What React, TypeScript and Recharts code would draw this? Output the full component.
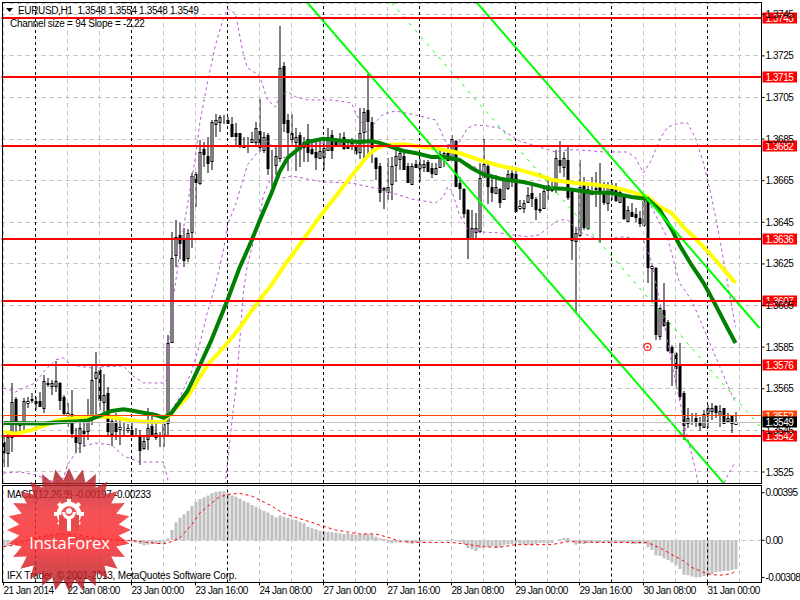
import React from 'react';
import { ComposedChart, Bar, Line, XAxis, YAxis, CartesianGrid, ReferenceLine, ReferenceDot } from 'recharts';

const toPrice = (a: number[]) => a.map((v) => v / 100000);

// Hourly EURUSD candles, prices x 100000
const opens = toPrice([
135394,135341,135418,135601,135485,135481,135582,135596,135591,135591,
135558,135673,135663,135663,135678,135610,135524,135529,135428,135389,
135447,135447,135514,135702,135740,135586,135630,135433,135490,135457,
135457,135452,135452,135423,135418,135365,135409,135471,135418,135423,
135433,135485,135875,136294,136390,136375,136279,136404,136682,136639,
136802,136769,136745,136923,136932,136951,136942,136923,136879,136879,
136812,136831,136836,136836,136889,136798,136870,136721,136726,136759,
137202,136942,136879,136836,136870,136812,136850,136802,136788,136759,
136764,136798,136870,136836,136822,136860,136822,136817,136812,136788,
136884,136990,136932,136759,136721,136615,136596,136634,136726,136754,
136769,136721,136634,136730,136711,136716,136740,136711,136682,136716,
136759,136783,136750,136841,136639,136610,136510,136370,136404,136409,
136668,136721,136620,136591,136610,136562,136615,136687,136682,136520,
136520,136548,136591,136562,136510,136520,136605,136620,136615,136750,
136716,136750,136605,136361,136390,136639,136423,136601,136610,136625,
136601,136543,136610,136610,136548,136572,136457,136500,136491,136471,
136438,136562,136231,136231,135904,136029,135971,135851,135822,135769,
135630,135485,135500,135509,135490,135466,135534,135543,135567,135524,
135558,135495,135519,135481]);
const highs = toPrice([
135418,135442,135678,135610,135490,135606,135610,135630,135610,135634,
135716,135702,135692,135783,135683,135620,135582,135644,135461,135500,
135485,135601,135759,135827,135755,135721,135658,135514,135534,135514,
135490,135481,135500,135461,135452,135418,135558,135538,135485,135442,
135500,135908,136404,136462,136447,136423,136419,136687,136692,136846,
136836,136860,136942,136971,136966,136966,136956,136956,136927,136879,
136860,136860,136884,136932,137043,136884,136879,136798,136812,137394,
137221,136971,136971,136903,136884,136860,136923,136831,136841,136846,
136846,136903,136894,136855,136879,136884,136846,136855,136841,136999,
136999,137163,136956,136764,136735,136620,136759,136764,136798,136807,
136798,136735,136735,136750,136754,136750,136750,136735,136735,136798,
136788,136822,136870,136846,136668,136615,136515,136510,136496,136735,
136850,136735,136668,136677,136615,136668,136701,136721,136716,136558,
136558,136620,136630,136572,136591,136615,136668,136644,136798,136841,
136788,136812,136615,136428,136750,136668,136630,136668,136692,136735,
136644,136644,136639,136639,136615,136582,136529,136543,136520,136505,
136558,136572,136246,136236,136043,136159,135981,135861,135827,135870,
135639,135558,135534,135534,135514,135548,135572,135582,135572,135572,
135558,135534,135524,135538]);
const lows = toPrice([
135274,135274,135346,135437,135437,135437,135558,135582,135548,135567,
135534,135658,135620,135634,135548,135524,135466,135413,135341,135341,
135370,135404,135476,135524,135548,135514,135418,135375,135404,135380,
135418,135437,135418,135418,135284,135356,135356,135418,135404,135370,
135370,135418,135870,136236,136274,136236,136260,136327,136524,136630,
136716,136687,136701,136860,136884,136923,136923,136860,136812,136807,
136807,136783,136831,136812,136788,136783,136677,136620,136677,136740,
136884,136697,136812,136697,136716,136740,136740,136774,136701,136754,
136701,136793,136754,136812,136812,136798,136802,136798,136774,136754,
136740,136778,136735,136653,136548,136515,136558,136558,136644,136701,
136701,136639,136634,136711,136644,136692,136692,136663,136677,136711,
136716,136745,136745,136620,136558,136471,136274,136366,136370,136399,
136668,136539,136548,136586,136520,136558,136605,136620,136500,136510,
136496,136543,136524,136462,136496,136515,136558,136596,136591,136687,
136668,136558,136270,136019,136380,136414,136414,136582,136524,136351,
136534,136505,136558,136548,136548,136462,136452,136476,136452,136428,
136428,136159,136067,135885,135885,135947,135827,135663,135658,135596,
135404,135461,135476,135466,135447,135466,135461,135500,135509,135466,
135481,135485,135437,135481]);
const closes = toPrice([
135346,135418,135586,135495,135476,135591,135591,135601,135582,135567,
135687,135678,135678,135687,135596,135534,135534,135437,135394,135461,
135437,135505,135692,135731,135596,135620,135447,135495,135447,135466,
135457,135461,135433,135423,135356,135399,135461,135423,135437,135423,
135481,135870,136279,136380,136351,136270,136399,136673,136644,136788,
136778,136735,136932,136942,136956,136951,136927,136865,136865,136817,
136822,136831,136850,136903,136812,136860,136711,136721,136769,137192,
136927,136884,136850,136860,136802,136836,136788,136783,136764,136793,
136807,136860,136798,136826,136850,136807,136807,136831,136783,136879,
136980,136937,136812,136711,136596,136605,136620,136721,136769,136783,
136706,136644,136721,136716,136730,136730,136697,136687,136711,136778,
136783,136750,136850,136625,136615,136496,136375,136423,136423,136663,
136730,136625,136596,136620,136548,136654,136682,136658,136505,136529,
136543,136582,136567,136515,136515,136601,136630,136605,136759,136726,
136759,136572,136366,136399,136620,136428,136610,136586,136615,136605,
136548,136620,136591,136558,136596,136471,136510,136481,136476,136447,
136553,136236,136241,135913,136039,135957,135837,135827,135750,135615,
135476,135509,135500,135495,135476,135529,135558,135558,135538,135543,
135485,135509,135485,135490]);

// Indicator readings as [bar, price x 100000]
const maFast: [number, number][] = [[0,135485],[10,135483],[13,135488],[17,135492],[21,135498],[24,135519],[27,135543],[30,135551],[32,135545],[35,135535],[38,135524],[40,135510],[42,135534],[44,135586],[46,135639],[49,135759],[52,135885],[56,136077],[59,136231],[62,136361],[64,136457],[67,136591],[69,136692],[71,136759],[74,136807],[76,136836],[80,136851],[84,136843],[89,136836],[92,136841],[94,136832],[97,136812],[100,136793],[103,136783],[107,136764],[110,136764],[114,136750],[117,136711],[120,136680],[125,136656],[130,136644],[133,136630],[136,136615],[141,136610],[147,136593],[152,136591],[157,136572],[161,136562],[164,136510],[167,136418],[169,136341],[172,136245],[175,136159],[178,136053],[181,135942],[183,135870]];
const maSlow: [number, number][] = [[0,135444],[3,135433],[7,135452],[11,135479],[14,135500],[18,135510],[22,135516],[26,135516],[30,135503],[34,135493],[38,135490],[40,135491],[42,135535],[46,135610],[51,135764],[56,135870],[59,135942],[64,136077],[67,136149],[70,136236],[74,136341],[79,136476],[84,136598],[87,136673],[90,136745],[92,136788],[94,136812],[96,136822],[100,136825],[104,136814],[109,136803],[114,136783],[119,136750],[124,136722],[129,136702],[134,136675],[137,136654],[142,136641],[147,136633],[152,136620],[157,136596],[161,136572],[164,136524],[167,136495],[170,136428],[172,136390],[175,136332],[178,136269],[181,136202],[183,136159]];
const bandUpper: [number, number][] = [[0,135654],[3,135634],[5,135654],[8,135678],[10,135731],[13,135789],[15,135798],[17,135764],[22,135750],[24,135755],[30,135760],[32,135716],[35,135678],[40,135678],[41,135702],[42,136029],[43,136159],[44,136294],[45,136423],[46,136534],[47,136654],[48,136764],[49,136918],[51,137125],[53,137303],[55,137432],[56,137476],[58,137452],[60,137255],[61,137192],[64,137154],[66,137038],[68,137004],[69,137053],[71,137077],[73,137053],[76,137038],[82,137038],[87,137024],[88,136976],[91,136879],[93,136932],[95,136971],[98,136985],[103,136966],[108,136942],[110,136860],[111,136822],[114,136836],[116,136903],[118,136918],[121,136913],[124,136903],[129,136841],[134,136812],[138,136788],[141,136798],[144,136798],[150,136788],[156,136788],[158,136759],[160,136687],[162,136750],[164,136846],[166,136908],[169,136927],[171,136927],[173,136855],[175,136735],[177,136572],[179,136380],[181,136159],[183,135947]];
const bandMiddle: [number, number][] = [[41,135524],[42,135548],[44,135606],[47,135731],[49,135860],[51,136019],[53,136149],[55,136317],[56,136438],[58,136534],[61,136726],[63,136774],[66,136841],[70,136759],[75,136822],[85,136841],[95,136826],[105,136774],[115,136740],[125,136654],[135,136620],[145,136605],[155,136582],[161,136562],[163,136486],[166,136375],[169,136159],[172,136077],[175,135942],[177,135851],[179,135760],[181,135668],[183,135582]];
const bandLower: [number, number][] = [[0,135245],[4,135250],[8,135236],[10,135221],[13,135200],[15,135221],[16,135284],[19,135370],[23,135389],[27,135380],[30,135327],[34,135298],[39,135298],[40,135298],[41,135221],[42,135115],[55,135115],[56,135293],[57,135476],[58,135634],[59,135860],[60,136125],[61,136245],[64,136471],[65,136582],[67,136668],[70,136663],[72,136673],[76,136658],[80,136644],[87,136639],[95,136605],[98,136586],[102,136562],[108,136543],[110,136572],[111,136620],[112,136605],[114,136486],[116,136418],[119,136404],[124,136399],[131,136380],[134,136390],[137,136438],[139,136462],[141,136462],[144,136404],[149,136366],[155,136380],[160,136366],[162,136260],[165,135981],[167,135779],[169,135596],[171,135418],[173,135260],[174,135163],[178,135115],[180,135192],[182,135269],[183,135298]];
const channelLow: [number, number][] = [[76,137505],[181,135175]];
const channelHigh: [number, number][] = [[118,137513],[189,135942]];
const channelMid: [number, number][] = [[97,137505],[189,135471]];

const macdHist = toPrice([
-58,-47,-39,-30,-19,-8,-3,8,17,25,36,44,53,58,64,66,58,50,39,36,30,25,19,17,17,11,11,11,8,8,8,3,
-11,-19,-30,-41,-36,-30,-30,-30,-30,17,86,149,188,216,243,285,321,343,357,373,390,401,407,407,390,373,362,346,326,313,293,279,257,246,230,210,191,205,196,188,174,169,155,141,113,100,91,80,75,72,66,64,58,53,58,53,44,50,53,53,50,30,17,14,-19,-25,-19,-8,
-6,-25,-28,-22,-14,-8,-3,-3,3,1,-3,3,11,-3,-14,-30,-64,-77,-89,-66,-53,-58,-47,-64,-58,-41,-33,-30,-25,-28,-30,-36,-41,-30,-22,-25,-28,-22,1,8,19,19,-6,-36,-30,-30,-25,-19,-22,-19,-17,-19,-17,-19,-19,-19,-25,-30,-30,-30,-28,-58,-80,-124,-130,-149,-163,-185,-205,-238,-285,-290,-301,-307,-307,-296,-290,-279,-263,-260,-254,-252,-246,-238]);
const macdSignal: [number, number][] = [[0,-53],[3,-39],[7,17],[12,44],[16,53],[19,44],[23,17],[27,3],[32,-3],[36,-17],[40,-30],[42,-11],[44,17],[47,127],[49,224],[52,307],[54,362],[57,384],[59,390],[62,368],[64,335],[67,285],[70,224],[73,191],[76,160],[79,127],[83,86],[86,69],[89,53],[93,53],[97,17],[99,-11],[100,-11],[104,-17],[112,-17],[115,-30],[120,-53],[124,-58],[127,-41],[128,-36],[133,-36],[137,-36],[141,-11],[149,-17],[157,-17],[161,-19],[164,-61],[167,-116],[170,-171],[172,-224],[176,-279],[179,-290],[182,-277],[183,-254]];

const priceTicks = [1.3745, 1.3725, 1.3705, 1.3685, 1.3665, 1.3645, 1.3625, 1.3605, 1.3585, 1.3565, 1.3545, 1.3525];
const levelValues = [1.37434, 1.37149, 1.36819, 1.36368, 1.36072, 1.35764, 1.35425];
const levelLabels = ['1.3743', '1.3715', '1.3682', '1.3636', '1.3607', '1.3576', '1.3542'];
const bidValue = 1.3552;
const lastValue = 1.35489;
const macdTicks = [0.00395, 0, -0.00308];

const tradingDays = ['21 Jan', '22 Jan', '23 Jan', '24 Jan', '27 Jan', '28 Jan', '29 Jan', '30 Jan', '31 Jan'];
const hh = (h: number) => `${h < 10 ? '0' : ''}${h}:00`;
const categories: string[] = [];
tradingDays.forEach((d, k) => {
  for (let h = k === 0 ? 16 : 0; h < 24; h++) {
    if (k === tradingDays.length - 1 && h > 13) break;
    categories.push(k === 0 && h === 16 ? '21 Jan 2014' : `${d} ${hh(h)}`);
  }
});

type Row = Record<string, any>;
const rows: Row[] = categories.map((t, i) => {
  const r: Row = { t };
  if (i < opens.length) {
    r.o = opens[i]; r.h = highs[i]; r.l = lows[i]; r.c = closes[i];
    r.range = [lows[i], highs[i]];
    r.macd = macdHist[i];
  }
  return r;
});
const put = (key: string, pts: [number, number][], div = 100000) => pts.forEach(([i, v]) => { rows[i][key] = v / div; });
put('maFast', maFast); put('maSlow', maSlow);
put('up', bandUpper); put('mid', bandMiddle); put('lo', bandLower);
put('chL', channelLow); put('chH', channelHigh); put('chM', channelMid);
put('signal', macdSignal);

const FONT = '"Liberation Sans", Arial, sans-serif';
const tickStyle = { fontFamily: FONT, fontSize: 10, letterSpacing: -0.45, fill: '#000' };
const macdTickStyle = { ...tickStyle, letterSpacing: -0.6 };

const Candle = (p: any) => {
  const { x, y, width, height, payload } = p;
  if (payload == null || payload.o == null) return null;
  const { o, h, l, c } = payload;
  const scale = Math.abs(height) / (h - l);
  const yOf = (v: number) => y + (h - v) * scale;
  const cx = x + width / 2;
  const top = Math.round(yOf(Math.max(o, c))) + 0.5;
  const bot = Math.round(yOf(Math.min(o, c))) + 0.5;
  const up = c > o;
  return (
    <g>
      <line x1={cx} x2={cx} y1={Math.round(y)} y2={Math.round(y + Math.abs(height))} stroke="#000" strokeWidth={1} />
      <rect x={cx - 1} y={top} width={2} height={Math.max(bot - top, 0)} fill={up ? '#fff' : '#000'} stroke="#000" strokeWidth={1} />
    </g>
  );
};

const Tag = ({ viewBox, text, fill }: any) => {
  if (!viewBox) return null;
  const right = viewBox.x + viewBox.width;
  const cy = Math.round(viewBox.y);
  return (
    <g>
      <rect x={right + 1} y={cy - 5.5} width={34.5} height={11} fill={fill} />
      <text x={right + 4} y={cy + 3.5} fill="#fff" style={{ fontFamily: FONT, fontSize: 10, letterSpacing: -0.45 }}>{text}</text>
    </g>
  );
};

const TimeTick = ({ x, y, payload }: any) => (
  <g>
    <line x1={x} x2={x} y1={y} y2={y + 3} stroke="#000" />
    <text x={x} y={y + 11.5} textAnchor="start" style={tickStyle}>{payload.value}</text>
  </g>
);

const crispLine = (width: number) => (p: any) => {
  const y = width % 2 === 0 ? Math.round(p.y1) : Math.floor(p.y1) + 0.5;
  return <line x1={p.x1} x2={p.x2} y1={y} y2={y} stroke={p.stroke} strokeWidth={width} strokeDasharray={p.strokeDasharray} />;
};

const gridIdx = categories.map((_, i) => i).filter((i) => i % 8 === 0);
const isDay = (i: number) => i % 24 === 8;

const verticals = (prefix: string) =>
  gridIdx.map((i) => (
    <ReferenceLine
      key={prefix + i}
      x={categories[i]}
      stroke={isDay(i) ? '#000' : '#C0C0C0'}
      strokeWidth={1}
      strokeDasharray={isDay(i) ? '3 3' : '4 4'}
    />
  ));

const Marker = ({ cx, cy }: any) => (
  <g>
    <circle cx={cx} cy={cy} r={3.5} fill="#fff" stroke="#FF2020" strokeWidth={1.2} />
    <circle cx={cx} cy={cy} r={1.2} fill="#FF2020" />
  </g>
);

const star = (cx: number, cy: number, R: number, r: number, n: number) => {
  const pts: string[] = [];
  for (let k = 0; k < n * 2; k++) {
    const a = (Math.PI * k) / n - Math.PI / 2;
    const q = k % 2 === 0 ? R : r;
    pts.push(`${(cx + q * Math.cos(a)).toFixed(1)},${(cy + q * Math.sin(a)).toFixed(1)}`);
  }
  return pts.join(' ');
};

const Logo = () => {
  const teeth = [0, 45, 90, 135, 180, 225, 270, 315];
  return (
    <svg width={800} height={600} style={{ position: 'absolute', left: 0, top: 0, pointerEvents: 'none' }}>
      <defs>
        <linearGradient id="lg" x1="0" y1="0" x2="0" y2="1">
          <stop offset="0" stopColor="#A02028" stopOpacity={0.82} />
          <stop offset="0.35" stopColor="#F02C30" stopOpacity={0.82} />
          <stop offset="0.6" stopColor="#FF2428" stopOpacity={0.82} />
          <stop offset="1" stopColor="#A01820" stopOpacity={0.8} />
        </linearGradient>
      </defs>
      <polygon points={star(69, 530, 62, 50, 28)} fill="url(#lg)" />
      <g transform="translate(69 514)">
        <circle r={10} fill="none" stroke="#fff" strokeWidth={4.5} />
        {teeth.map((t) => (
          <rect key={t} x={-2} y={-15} width={4} height={5} fill="#fff" transform={`rotate(${t})`} />
        ))}
        <rect x={-10} y={1} width={20} height={16} fill="#E84A4A" />
        <circle cx={0} cy={-3} r={3} fill="#fff" />
        <path d="M-7 -2 Q-6 4 -2 5 L-2 17 L2 17 L2 5 Q6 4 7 -2 L4 -2 Q3 2 0 2 Q-3 2 -4 -2 Z" fill="#fff" />
      </g>
      <text x={69.5} y={549} textAnchor="middle" fill="#fff" style={{ fontFamily: '"Open Sans", sans-serif', fontSize: 16.5, fontWeight: 400 }}>InstaForex</text>
    </svg>
  );
};

const label = (text: string, left: number, top: number, spacing: number) => (
  <div style={{ position: 'absolute', left, top, fontFamily: FONT, fontSize: 10, letterSpacing: spacing, color: '#000', lineHeight: '12px', whiteSpace: 'pre' }}>{text}</div>
);
const frame = (top: number, height: number) => (
  <div style={{ position: 'absolute', left: 2, top, width: 760, height, boxSizing: 'border-box', border: '1px solid #000', pointerEvents: 'none' }} />
);

export default function App() {
  return (
    <div style={{ position: 'absolute', left: 0, top: 0, width: 800, height: 600, background: '#fff', overflow: 'hidden' }}>
      <div style={{ position: 'absolute', left: 0, top: 0 }}>
        <ComposedChart width={800} height={484} data={rows} margin={{ top: 3, right: 0, bottom: 1, left: 1.5 }} barCategoryGap={0}>
          <CartesianGrid vertical={false} stroke="#C0C0C0" strokeDasharray="4 4" horizontal={crispLine(1) as any} />
          <XAxis dataKey="t" hide interval={0} />
          <YAxis
            orientation="right"
            width={38.5}
            domain={[1.35197, 1.37504]}
            allowDataOverflow
            ticks={priceTicks}
            interval={0}
            tickFormatter={(v: number) => v.toFixed(4)}
            tick={tickStyle}
            tickSize={3}
            tickMargin={1}
            axisLine={false}
            tickLine={{ stroke: '#000' }}
          />
          {verticals('m')}
          <Line dataKey="up" stroke="#BA55D3" strokeWidth={1} strokeDasharray="3 3" dot={false} connectNulls isAnimationActive={false} />
          <Line dataKey="mid" stroke="#BA55D3" strokeWidth={1} strokeDasharray="3 3" dot={false} connectNulls isAnimationActive={false} />
          <Line dataKey="lo" stroke="#BA55D3" strokeWidth={1} strokeDasharray="3 3" dot={false} connectNulls isAnimationActive={false} />
          <Bar dataKey="range" barSize={3} shape={<Candle />} isAnimationActive={false} />
          <Line dataKey="maSlow" stroke="#FFFF00" strokeWidth={4} dot={false} connectNulls isAnimationActive={false} />
          <Line dataKey="maFast" stroke="#008000" strokeWidth={4} dot={false} connectNulls isAnimationActive={false} />
          <Line dataKey="chL" stroke="#00FF00" strokeWidth={2} dot={false} connectNulls isAnimationActive={false} />
          <Line dataKey="chH" stroke="#00FF00" strokeWidth={2} dot={false} connectNulls isAnimationActive={false} />
          <Line dataKey="chM" stroke="#00FF00" strokeWidth={1} strokeDasharray="3 6" dot={false} connectNulls isAnimationActive={false} />
          <ReferenceDot x={categories[161]} y={1.35851} r={4} shape={<Marker />} />
          <ReferenceLine y={bidValue} stroke="#FF4500" strokeWidth={1} shape={crispLine(1)} label={{ content: (p: any) => <Tag viewBox={p.viewBox} text="1.3552" fill="#FF4500" /> }} />
          <ReferenceLine y={lastValue} stroke="#C0C0C0" strokeWidth={1} shape={crispLine(1)} label={{ content: (p: any) => <Tag viewBox={p.viewBox} text="1.3549" fill="#000" /> }} />
          {levelValues.map((v, k) => (
            <ReferenceLine key={v} y={v} stroke="#FF0000" strokeWidth={2} shape={crispLine(2)} label={{ content: (p: any) => <Tag viewBox={p.viewBox} text={levelLabels[k]} fill="#FF0000" /> }} />
          ))}
        </ComposedChart>
      </div>
      <div style={{ position: 'absolute', left: 0, top: 485 }}>
        <ComposedChart width={800} height={115} data={rows} margin={{ top: 0.5, right: 0, bottom: 0, left: 1.5 }} barCategoryGap={0}>
          <XAxis
            dataKey="t"
            interval={0}
            height={17.5}
            ticks={categories.filter((_, i) => i % 16 === 0)}
            tick={<TimeTick />}
            tickSize={0}
            tickMargin={0}
            tickLine={false}
            axisLine={false}
          />
          <YAxis
            orientation="right"
            width={38.5}
            domain={[-0.0035, 0.00455]}
            allowDataOverflow
            ticks={macdTicks}
            interval={0}
            tickFormatter={(v: number) => (v === 0 ? '0.00' : v.toFixed(5))}
            tick={macdTickStyle}
            tickSize={3}
            tickMargin={1}
            axisLine={false}
            tickLine={{ stroke: '#000' }}
          />
          {verticals('s')}
          <ReferenceLine y={0} stroke="#C0C0C0" strokeDasharray="4 4" shape={crispLine(1)} />
          <Bar dataKey="macd" barSize={3} fill="#C0C0C0" isAnimationActive={false} />
          <Line dataKey="signal" stroke="#FF0000" strokeWidth={1} strokeDasharray="3 3" dot={false} connectNulls isAnimationActive={false} />
        </ComposedChart>
      </div>
      {frame(2, 482)}
      {frame(485, 98)}
      <svg width={14} height={10} style={{ position: 'absolute', left: 5, top: 7 }}><polygon points="1,1 8,1 4.5,5" fill="#000" /></svg>
      {label('EURUSD,H1  1.3548 1.3554 1.3548 1.3549', 18, 5, -0.36)}
      {label('Channel size = 94 Slope = -2,22', 10, 18, -0.27)}
      {label('MACD(12,26,9) -0.00197 -0.00233', 7, 489, -0.33)}
      {label('IFX Trader, © 2001-2013, MetaQuotes Software Corp.', 7, 570, -0.2)}
      <Logo />
    </div>
  );
}
